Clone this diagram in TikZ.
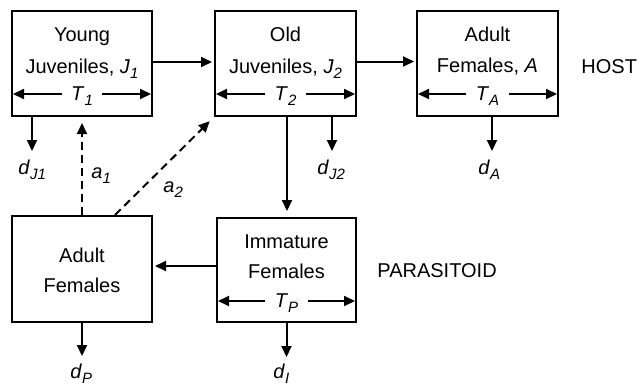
\documentclass[tikz,border=0pt]{standalone}
\usepackage{fontspec}
\setmainfont{Liberation Sans}
\usetikzlibrary{arrows.meta}
% italic subscript used in the stage and rate labels
\newcommand{\sbs}[1]{\raisebox{-0.55ex}{\fontsize{7.5}{8}\selectfont\itshape #1}}

\begin{document}
\begin{tikzpicture}[x=0.5pt,y=-0.5pt,
  font=\fontsize{10}{12}\selectfont,
  box/.style={draw, line width=1pt, minimum width=70pt, minimum height=52.5pt, inner sep=0pt},
  line/.style={inner sep=0pt, anchor=base},
  lbl/.style={inner sep=0pt, anchor=base west},
  tlab/.style={inner xsep=4.5pt, inner ysep=0pt, text height=7.5pt, text depth=1.5pt},
  arr/.style={-{Triangle[length=5.5pt,width=5pt]}, line width=1pt},
  dasharr/.style={arr, dash pattern=on 4pt off 2.5pt}]
\useasboundingbox (0,0) rectangle (641,386);

% host stages
\node[box] (j1) at (82,63.5) {};
\node[box, minimum width=70.5pt] (j2) at (285.5,63.5) {};
\node[box, minimum width=70.5pt] (ad) at (487.5,63.5) {};
% parasitoid stages
\node[box, minimum height=53pt] (pf) at (82,269) {};
\node[box, minimum width=69.5pt, minimum height=52pt] (im) at (286.5,270) {};

% box texts
\node[line] (j1a) at (82,41) {Young};
\node[line] (j1b) at (82,73) {Juveniles, \textit{J}\sbs{1}};
\node[line] (j2a) at (285.5,41) {Old};
\node[line] (j2b) at (285.5,73) {Juveniles, \textit{J}\sbs{2}};
\node[line] (ada) at (487.5,41) {Adult};
\node[line] (adb) at (487.5,72) {Females, \textit{A}};
\node[line] (pfa) at (82,262) {Adult};
\node[line] (pfb) at (82,292) {Females};
\node[line] (ima) at (286.5,248) {Immature};
\node[line] (imb) at (286.5,278) {Females};

% development times
\node[tlab] (t1) at (82,94) {\textit{T}\sbs{1}};
\node[tlab] (t2) at (285.5,94) {\textit{T}\sbs{2}};
\node[tlab] (ta) at (487.5,94) {\textit{T}\sbs{A}};
\node[tlab] (tp) at (286.5,301) {\textit{T}\sbs{P}};
\foreach \t/\b in {t1/j1, t2/j2, ta/ad, tp/im} {
  \draw[arr, shorten >=1pt] (\t.west) -- (\t.west -| \b.west);
  \draw[arr, shorten >=1pt] (\t.east) -- (\t.east -| \b.east);
}

% population groups
\node[lbl] (host) at (581,73) {HOST};
\node[lbl] (para) at (377,277) {PARASITOID};

% flows between stages
\draw[arr, shorten >=1pt] ([yshift=0.75pt]j1.east) -- ([yshift=0.75pt]j2.west);
\draw[arr, shorten >=1pt] ([yshift=1pt]j2.east) -- ([yshift=1pt]ad.west);
\draw[arr, shorten >=3pt] ([xshift=0.25pt]im.north |- j2.south) -- ([xshift=0.25pt]im.north);
\draw[arr, shorten >=1pt] ([yshift=2pt]im.west) -- ([yshift=2pt]im.west -| pf.east);

% attacks by adult parasitoids
\draw[dasharr, shorten >=3pt] (pf.north) -- (j1.south);
\draw[dasharr, shorten >=3pt] ([xshift=16.5pt]pf.north) -- (j2.south west);
\node[lbl] (a1) at (91,178) {\textit{a}\sbs{1}};
\node[lbl] (a2) at (163,192) {\textit{a}\sbs{2}};

% mortality
\draw[arr] ([xshift=10.5pt]j1.south west) -- ++(0,34) coordinate (dj1e);
\draw[arr] ([xshift=-12.5pt]j2.south east) -- ++(0,34) coordinate (dj2e);
\draw[arr] ([xshift=2.25pt]ad.south) -- ++(0,34) coordinate (dae);
\draw[arr] (pf.south) -- ++(0,33) coordinate (dpe);
\draw[arr] (im.south) -- ++(0,34) coordinate (die);
\node[lbl] (dj1) at (18,174) {\textit{d}\sbs{J1}};
\node[lbl] (dj2) at (317,174) {\textit{d}\sbs{J2}};
\node[lbl] (da) at (478,174) {\textit{d}\sbs{A}};
\node[lbl] (dp) at (70,378) {\textit{d}\sbs{P}};
\node[lbl] (di) at (273,378) {\textit{d}\sbs{I}};
\end{tikzpicture}
\end{document}
